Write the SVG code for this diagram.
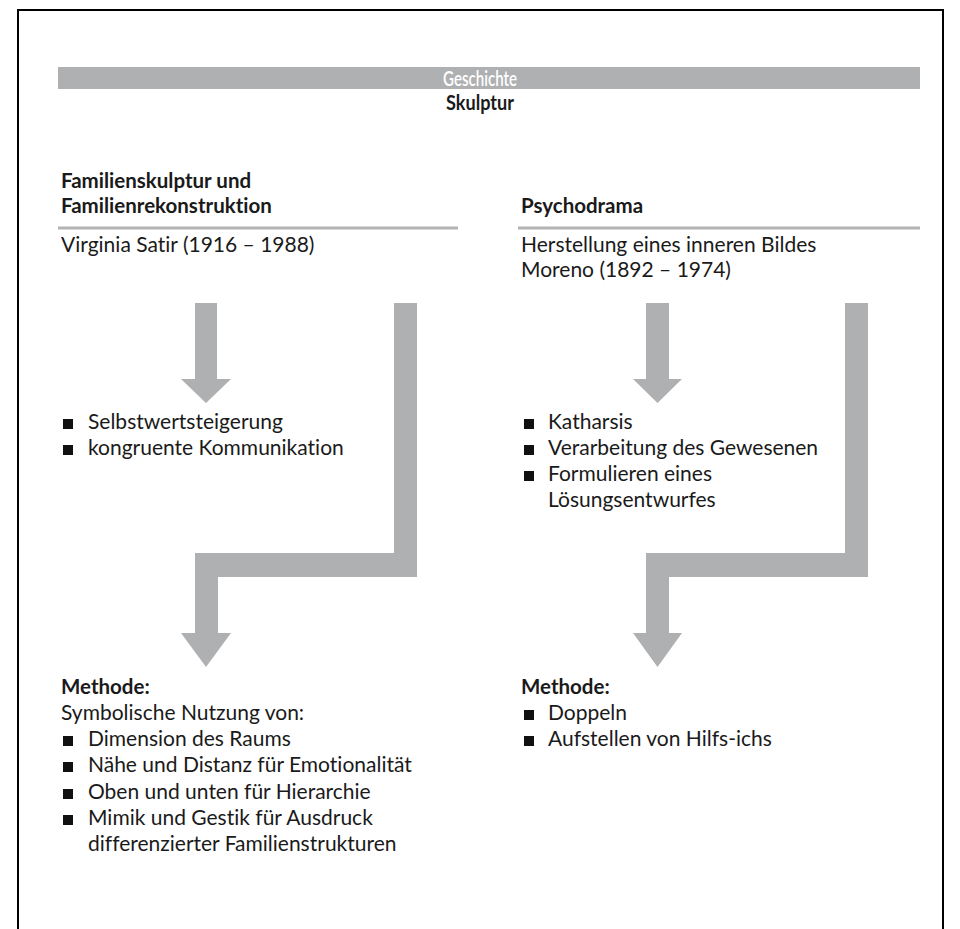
<svg xmlns="http://www.w3.org/2000/svg" width="960" height="929" viewBox="0 0 960 929">
<style>
text{font-family:Lato,"Open Sans","Liberation Sans",sans-serif;font-size:21px;fill:#1a1a1a;font-variant-ligatures:none}
.b{font-weight:bold;font-size:20.5px}
.arrow{fill:#afb0b2}
.rule{stroke:#b4b4b4;stroke-width:3}
.sq{fill:#111}
</style>
<defs>
<rect id="sq" class="sq" width="10" height="10"/>
</defs>
<rect width="960" height="929" fill="#fff"/>
<path d="M18,929 V10 H943 V929" fill="none" stroke="#000" stroke-width="2"/>
<g id="header">
<rect x="58" y="67" width="862" height="22" fill="#afb0b2"/>
<text x="443" y="85.5" textLength="74" lengthAdjust="spacingAndGlyphs" style="fill:#fff;font-size:21.5px;font-weight:600">Geschichte</text>
<text class="b" x="446" y="109.5" textLength="68" lengthAdjust="spacingAndGlyphs" style="font-size:21.5px">Skulptur</text>
</g>
<g id="satir">
<text class="b" x="61" y="188">Familienskulptur und</text>
<text class="b" x="61" y="213">Familienrekonstruktion</text>
<line class="rule" x1="58" y1="228" x2="458" y2="228"/>
<text x="61" y="252">Virginia Satir (1916 – 1988)</text>
</g>
<g id="psychodrama">
<text class="b" x="521" y="213">Psychodrama</text>
<line class="rule" x1="518" y1="228" x2="920" y2="228"/>
<text x="521" y="252">Herstellung eines inneren Bildes</text>
<text x="521" y="277">Moreno (1892 – 1974)</text>
</g>
<g id="satir-effects">
<use href="#sq" x="63" y="419"/>
<text x="88" y="429">Selbstwertsteigerung</text>
<use href="#sq" x="63" y="445"/>
<text x="88" y="455">kongruente Kommunikation</text>
</g>
<g id="psychodrama-effects">
<use href="#sq" x="524" y="419"/>
<text x="548" y="429">Katharsis</text>
<use href="#sq" x="524" y="445"/>
<text x="548" y="455">Verarbeitung des Gewesenen</text>
<use href="#sq" x="524" y="471"/>
<text x="548" y="481">Formulieren eines</text>
<text x="548" y="507">Lösungsentwurfes</text>
</g>
<g id="satir-method">
<text class="b" x="61" y="694">Methode:</text>
<text x="61" y="720">Symbolische Nutzung von:</text>
<use href="#sq" x="63" y="736"/>
<text x="88" y="746">Dimension des Raums</text>
<use href="#sq" x="63" y="762"/>
<text x="88" y="772">Nähe und Distanz für Emotionalität</text>
<use href="#sq" x="63" y="789"/>
<text x="88" y="799">Oben und unten für Hierarchie</text>
<use href="#sq" x="63" y="815"/>
<text x="88" y="825">Mimik und Gestik für Ausdruck</text>
<text x="88" y="851">differenzierter Familienstrukturen</text>
</g>
<g id="psychodrama-method">
<text class="b" x="521" y="694">Methode:</text>
<use href="#sq" x="524" y="710"/>
<text x="548" y="720">Doppeln</text>
<use href="#sq" x="524" y="736"/>
<text x="548" y="746">Aufstellen von Hilfs-ichs</text>
</g>
<g id="connectors">
<path class="arrow" d="M195,303 H217 V379 H231 L206,403 L181,379 H195 Z"/>
<path class="arrow" d="M394,303 H417 V577 H218 V633 H231 L206,667 L181,633 H195 V553 H394 Z"/>
<path class="arrow" d="M646,303 H669 V379 H682 L657.5,403 L633,379 H646 Z"/>
<path class="arrow" d="M845,303 H868 V577 H669 V633 H682 L657.5,667 L633,633 H646 V553 H845 Z"/>
</g>
</svg>
